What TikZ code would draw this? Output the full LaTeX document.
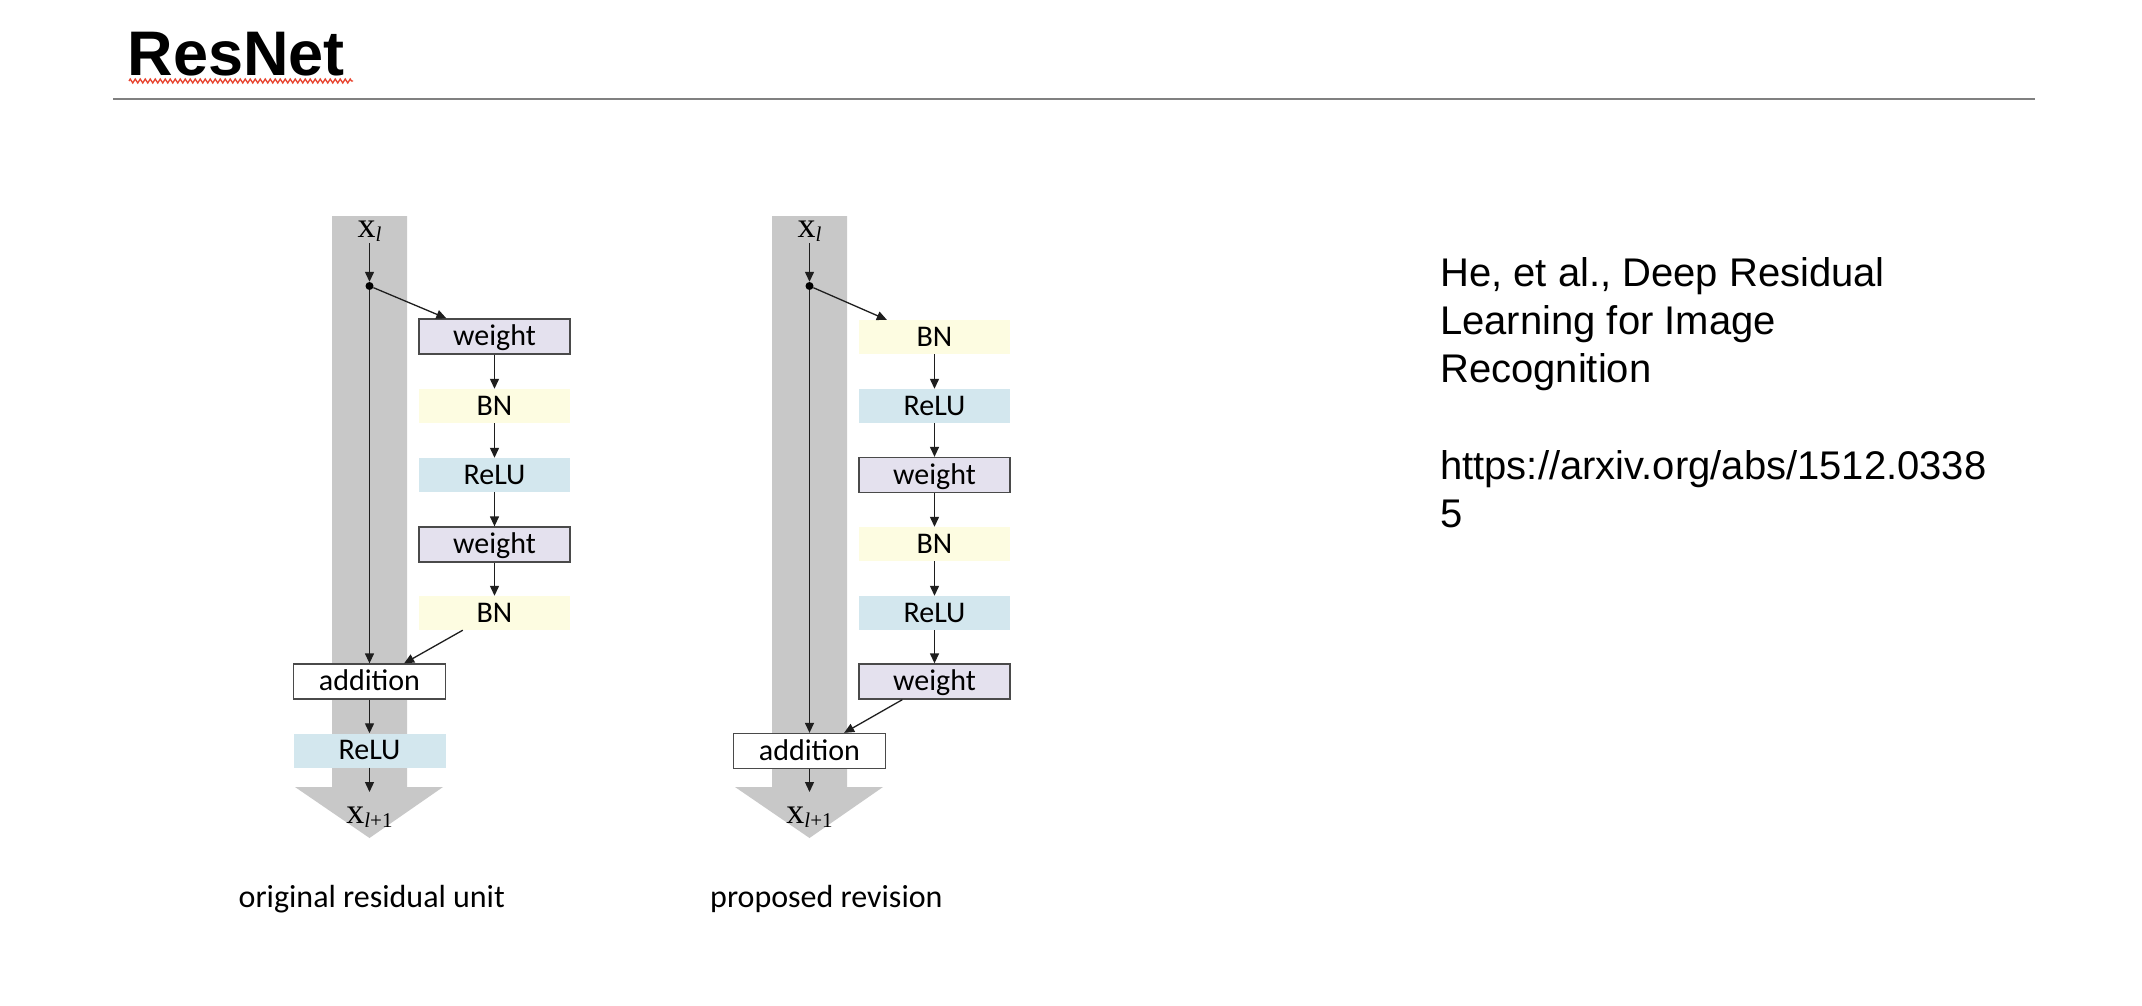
\documentclass[tikz,border=0pt]{standalone}
\usepackage{fontspec}
\setmainfont{Liberation Sans}
\newfontfamily\carl{Carlito}
\newfontfamily\serifx{Liberation Serif}
\usetikzlibrary{arrows.meta,calc,decorations.pathmorphing}
\definecolor{bandgray}{HTML}{C8C8C8}
\definecolor{wfill}{HTML}{E4E1EE}
\definecolor{bnfill}{HTML}{FDFCE1}
\definecolor{relufill}{HTML}{D3E7EE}
\definecolor{boxline}{HTML}{4A4A4A}
\definecolor{arrowc}{HTML}{1E1E1E}
\definecolor{rulegray}{HTML}{808080}
\definecolor{squig}{HTML}{E8432E}
\begin{document}
\begin{tikzpicture}[x=1pt,y=-1pt,
  blk/.style={minimum width=151pt, minimum height=34pt, inner sep=0pt, text height=18pt, text depth=0pt, font=\carl\fontsize{30}{34}\selectfont, text=black},
  wbox/.style={blk, draw=boxline, line width=1.3pt, fill=wfill, minimum height=35pt},
  bnbox/.style={blk, fill=bnfill},
  relubox/.style={blk, fill=relufill},
  addbox/.style={blk, draw=boxline, line width=1.3pt, fill=white, minimum height=35pt},
  flow/.style={draw=arrowc, line width=1.3pt, -{Triangle[length=10pt,width=9pt]}},
  junction/.style={circle, fill=black, inner sep=0pt, minimum size=8pt},
  xlab/.style={inner sep=0pt, anchor=base, font=\serifx\fontsize{36}{36}\selectfont},
  caption/.style={inner sep=0pt, anchor=base west, font=\carl\fontsize{32}{38}\selectfont},
  note/.style={inner sep=0pt, anchor=base west, font=\fontsize{40}{48}\selectfont},
]
\useasboundingbox (0,0) rectangle (2142,1006);
\fill[white] (0,0) rectangle (2142,1006);

% title and rule
\node[inner sep=0pt, anchor=base west, font=\bfseries\fontsize{63}{75}\selectfont] (title) at (127.5,76) {ResNet};
\draw[squig, line width=1.3pt, decorate, decoration={zigzag, segment length=5pt, amplitude=2pt}] (129,81) -- (353,81);
\draw[rulegray, line width=2.2pt] (113,99) -- (2035,99);

% ---------- left: original residual unit ----------
\fill[bandgray] (332,216) -- (407,216) -- (407,787) -- (443,787) -- (369.5,838) -- (295,787) -- (332,787) -- cycle;
\node[xlab] (xa) at (369.5,237) {x\raisebox{-4pt}{\fontsize{21}{21}\selectfont\itshape l}};
\node[junction] (ja) at (369.5,286) {};
\node[wbox] (a1) at (494.5,336.5) {weight};
\node[bnbox] (a2) at (494.5,406) {BN};
\node[relubox] (a3) at (494.5,475) {ReLU};
\node[wbox] (a4) at (494.5,544.5) {weight};
\node[bnbox] (a5) at (494.5,613) {BN};
\node[addbox, minimum width=152pt] (aadd) at (369.5,681.5) {addition};
\node[relubox, minimum width=152pt] (arelu) at (369.5,750.5) {ReLU};
\coordinate (aend) at (369.5,792);
\node[xlab] (xa2) at (369.5,823) {x\raisebox{-4pt}{\fontsize{21}{21}\selectfont\itshape l\upshape+1}};

\draw[flow, shorten <=2pt] (xa.south) -- (ja.north);
\draw[flow] (ja) -- ($(a1.north west)+(28,0)$);
\draw[flow] (a1) -- (a2);
\draw[flow] (a2) -- (a3);
\draw[flow] (a3) -- (a4);
\draw[flow] (a4) -- (a5);
\draw[flow] (ja) -- (aadd);
\draw[flow] ($(a5.south west)+(44,0)$) -- ($(aadd.north east)+(-42,0)$);
\draw[flow] (aadd) -- (arelu);
\draw[flow] (arelu) -- (aend);

% ---------- right: proposed revision ----------
\fill[bandgray] (772,216) -- (847,216) -- (847,787) -- (883,787) -- (809.5,838) -- (735,787) -- (772,787) -- cycle;
\node[xlab] (xb) at (809.5,237) {x\raisebox{-4pt}{\fontsize{21}{21}\selectfont\itshape l}};
\node[junction] (jb) at (809.5,286) {};
\node[bnbox] (b1) at (934.5,337) {BN};
\node[relubox] (b2) at (934.5,406) {ReLU};
\node[wbox] (b3) at (934.5,475) {weight};
\node[bnbox] (b4) at (934.5,544) {BN};
\node[relubox] (b5) at (934.5,613) {ReLU};
\node[wbox] (b6) at (934.5,681.5) {weight};
\node[addbox, minimum width=152pt] (badd) at (809.5,751) {addition};
\coordinate (bend) at (809.5,792);
\node[xlab] (xb2) at (809.5,823) {x\raisebox{-4pt}{\fontsize{21}{21}\selectfont\itshape l\upshape+1}};

\draw[flow, shorten <=2pt] (xb.south) -- (jb.north);
\draw[flow] (jb) -- ($(b1.north west)+(28,0)$);
\draw[flow] (b1) -- (b2);
\draw[flow] (b2) -- (b3);
\draw[flow] (b3) -- (b4);
\draw[flow] (b4) -- (b5);
\draw[flow] (b5) -- (b6);
\draw[flow] (jb) -- (badd);
\draw[flow] ($(b6.south west)+(44,0)$) -- ($(badd.north east)+(-42,0)$);
\draw[flow] (badd) -- (bend);

% captions
\node[caption] (capa) at (238.5,907) {original residual unit};
\node[caption] (capb) at (710,907) {proposed revision};

% reference text
\node[note] (n1) at (1440,286) {He, et al., Deep Residual};
\node[note] (n2) at (1440,334) {Learning for Image};
\node[note] (n3) at (1440,382) {Recognition};
\node[note] (n4) at (1440,479) {https://arxiv.org/abs/1512.0338};
\node[note] (n5) at (1440,527) {5};
\end{tikzpicture}
\end{document}
